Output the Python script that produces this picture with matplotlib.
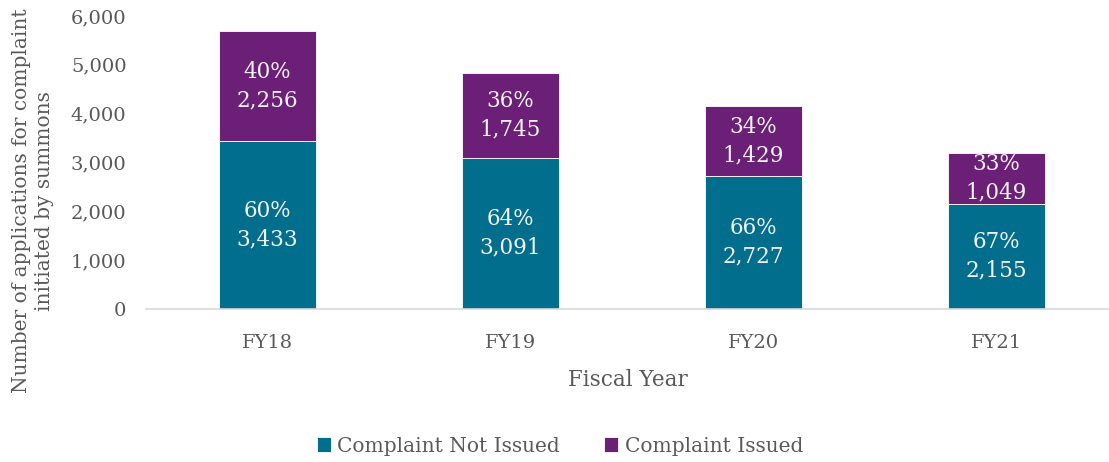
import matplotlib
matplotlib.use("Agg")
import matplotlib.pyplot as plt
import numpy as np

years = ["FY18", "FY19", "FY20", "FY21"]
not_issued = [3433, 3091, 2727, 2155]
issued = [2256, 1745, 1429, 1049]
pct_not_issued = [60, 64, 66, 67]
pct_issued = [40, 36, 34, 33]

teal = "#006E8C"
purple = "#6B1F77"
grey = "#595959"

plt.rcParams['font.family'] = ['DejaVu Serif']
plt.rcParams['font.size'] = 13

fig = plt.figure(figsize=(11.09, 4.62), dpi=100)
ax = fig.add_axes([146 / 1109, 1 - 309 / 462, 963 / 1109, 293 / 462])

x = np.arange(len(years))
w = 0.40
b1 = ax.bar(x, not_issued, w, color=teal, edgecolor="white", linewidth=0.6,
            label="Complaint Not Issued")
b2 = ax.bar(x, issued, w, bottom=not_issued, color=purple, edgecolor="white",
            linewidth=0.6, label="Complaint Issued")

for i in range(len(years)):
    ax.text(x[i], not_issued[i] / 2, f"{pct_not_issued[i]}%\n{not_issued[i]:,}",
            ha="center", va="center", color="#F2F2F2", fontsize=15.5, linespacing=1.4)
    ax.text(x[i], not_issued[i] + issued[i] / 2, f"{pct_issued[i]}%\n{issued[i]:,}",
            ha="center", va="center", color="#F2F2F2", fontsize=15.5, linespacing=1.4)

ax.set_ylim(0, 6000)
ax.set_xlim(-0.5, -0.5 + 963 / 243)
ax.set_yticks(range(0, 6001, 1000))
ax.set_yticklabels([f"{v:,}" for v in range(0, 6001, 1000)])
ax.set_xticks(x)
ax.set_xticklabels(years)
ax.tick_params(axis="both", length=0, colors=grey, labelsize=14)
ax.tick_params(axis="y", pad=14)
ax.tick_params(axis="x", pad=18)
for s in ["top", "right", "left"]:
    ax.spines[s].set_visible(False)
ax.spines["bottom"].set_color("#D9D9D9")
ax.spines["bottom"].set_linewidth(1.2)

ax.set_xlabel("Fiscal Year", color=grey, fontsize=15.5, labelpad=12)
fig.text(33 / 1109, 1 - 201 / 462,
         "Number of applications for complaint\ninitiated by summons",
         rotation=90, ha="center", va="center", multialignment="center",
         color=grey, fontsize=14.5, linespacing=1.25)

fig.legend(handles=[b1, b2], loc="center", bbox_to_anchor=(0.505, 1 - 446 / 462),
           ncol=2, frameon=False, fontsize=14.5, labelcolor=grey,
           handlelength=0.7, handleheight=0.7, handletextpad=0.3, columnspacing=2.2)

fig.savefig("out.png", dpi=100)
